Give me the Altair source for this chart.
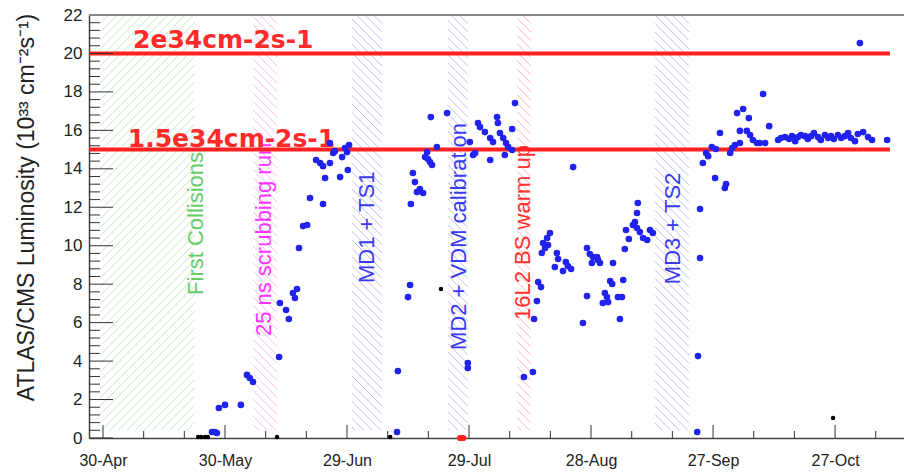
import altair as alt
import pandas as pd

# ---------------- data (days since 30-Apr-2017, luminosity in 1e33 cm-2 s-1) ----------------
blue_day = [26.8, 27.5, 28.0, 28.5, 30.0, 33.9, 35.4, 36.1, 36.9, 43.3, 43.5, 45.0, 45.7, 46.7,
            47.2, 47.7, 48.2, 49.2, 50.2, 50.9, 54.1, 52.4, 53.4, 54.1, 54.6, 55.8, 55.8, 56.6,
            57.0, 58.3, 58.8, 59.5, 60.0, 60.5, 60.2,
            72.3, 72.5, 75.0, 75.5, 75.7, 76.2, 76.7, 77.2, 77.9, 78.7, 79.2, 79.7, 79.9, 80.4,
            80.9, 82.1, 80.6, 84.6, 89.7, 89.7, 90.2, 91.0, 91.5, 92.2, 92.7, 93.9, 95.2, 95.9,
            95.2, 96.9, 97.1, 97.6, 98.4, 99.1, 99.6, 100.6, 98.8, 100.6, 101.3,
            103.5, 105.7, 106.0, 106.7, 107.0, 107.7, 107.9, 108.2, 108.7, 109.2, 109.4, 109.9,
            111.6, 111.9, 111.1, 113.8, 114.3, 113.1, 115.1, 115.6, 118.0, 119.0, 119.0, 119.7,
            120.5, 121.5, 120.2, 121.7, 122.2, 125.4, 124.7, 125.2, 123.4, 123.9, 122.9, 124.2,
            126.6, 127.6, 127.9, 127.1, 128.3, 129.3, 128.6, 131.5, 131.3, 130.8, 130.3, 131.3,
            132.0, 132.8, 133.8, 134.5, 135.2,
            146.1, 146.3, 146.8, 146.8, 147.5, 148.3, 148.8, 149.7, 150.7, 150.5, 153.2, 152.9,
            151.7, 154.2, 154.7, 155.4, 156.6, 155.9, 157.4, 158.8, 156.6, 158.3, 159.1, 159.8,
            160.8, 161.5, 162.8, 162.3, 163.8,
            166.0, 166.7, 167.7, 168.7, 169.4, 170.2, 170.9, 171.6, 172.6, 173.3, 174.1, 174.8,
            175.8, 176.5, 177.5, 178.3, 179.0, 179.7, 180.7, 181.5, 182.4, 183.2, 183.9, 184.9,
            185.6, 186.9, 188.1, 189.1, 192.8, 186.1]
blue_lum = [0.31, 0.31, 0.26, 1.56, 1.72, 1.72, 3.28, 3.12, 2.91, 4.21, 7.02, 6.66, 6.19, 7.54,
            7.28, 7.75, 9.88, 11.02, 11.08, 12.48, 12.17, 14.46, 14.30, 14.14, 13.52, 14.30, 15.34, 14.82,
            14.92, 13.57, 14.61, 15.08, 14.87, 15.24, 13.94,
            0.31, 3.48, 7.33, 7.96, 12.17, 13.78, 13.31, 12.79, 12.95, 12.74, 14.61, 14.87, 14.51, 14.35,
            14.20, 15.13, 16.69, 16.90, 3.90, 3.64, 15.39, 14.72, 14.82, 16.38, 16.17, 15.91, 15.60, 15.39,
            14.46, 16.69, 16.38, 15.86, 15.60, 15.34, 15.13, 14.98, 14.72, 16.07, 17.42,
            3.17, 3.43, 6.19, 7.12, 8.11, 7.85, 9.62, 10.14, 9.88, 10.40, 10.04, 10.66,
            9.62, 9.31, 8.89, 9.15, 8.94, 8.68, 8.79, 14.09, 5.98, 7.38, 9.88, 9.57,
            9.41, 9.41, 9.10, 9.26, 9.10, 9.10, 8.16, 8.01, 7.54, 7.33, 7.02, 7.07,
            7.33, 7.33, 8.22, 6.19, 9.83, 10.35, 10.82, 12.22, 11.70, 11.23, 11.08, 10.92,
            10.71, 10.40, 10.30, 10.82, 10.66,
            0.31, 4.26, 9.36, 11.91, 14.30, 14.82, 14.66, 15.13, 15.03, 13.52, 13.21, 13.00,
            15.86, 14.82, 15.08, 15.24, 15.34, 16.90, 17.11, 16.64, 15.97, 15.97, 15.76, 15.50,
            15.34, 15.34, 15.34, 17.89, 16.22,
            15.50, 15.60, 15.65, 15.55, 15.70, 15.44, 15.65, 15.76, 15.70, 15.55, 15.70, 15.86,
            15.65, 15.50, 15.76, 15.60, 15.70, 15.55, 15.76, 15.60, 15.70, 15.86, 15.60, 15.44,
            15.81, 15.91, 15.65, 15.50, 15.50, 20.54]

black_day = [23.4, 24.1, 25.1, 25.8, 42.8, 70.6, 83.1, 179.5]
black_lum = [0.05, 0.05, 0.05, 0.05, 0.05, 0.05, 7.75, 1.04]
red_day = [87.8, 88.6]
red_lum = [0.0, 0.0]

x_tick_days = [0, 30, 60, 90, 120, 150, 180]
x_tick_labels = ["30-Apr", "30-May", "29-Jun", "29-Jul", "28-Aug", "27-Sep", "27-Oct"]
y_tick_values = [0, 2, 4, 6, 8, 10, 12, 14, 16, 18, 20, 22]

band_start = [-0.7, 36.9, 61.2, 84.8, 101.8, 135.7]
band_end = [22.6, 42.8, 68.6, 89.7, 105.2, 144.1]
band_text = ["First Collisions", "25 ns scrubbing run", "MD1 + TS1",
             "MD2 + VDM calibration", "16L2 BS warm up", "MD3 + TS2"]
band_text_day = [22.9, 39.6, 64.9, 87.5, 103.3, 140.2]
band_text_lum = [7.44, 5.3, 8.06, 4.58, 6.14, 8.0]
band_text_color = ["#66cc66", "#ff33ff", "#3a3af0", "#3a3af0", "#ff3030", "#3a3af0"]
band_hatch_color = ["#c4e6c4", "#f6bcf6", "#bcc2f2", "#bcc2f2", "#f7b8b8", "#bcc2f2"]
band_hatch_dir = ["/", "\\", "\\", "\\", "\\", "\\"]

target_lum = [20, 15]
target_text = ["2e34cm-2s-1", "1.5e34cm-2s-1"]
target_text_day = [7.4, 6.1]
target_text_lum = [20.28, 15.13]
target_end_day = 193.5

# ---------------- layout ----------------
W, H = 815, 423
XMIN, XMAX = -3.44, 196.95
YMIN, YMAX = 0, 22
BAND_BOTTOM = 0.4
pxd = W / (XMAX - XMIN)
pxl = H / (YMAX - YMIN)

xs = alt.Scale(domain=[XMIN, XMAX], nice=False, zero=False)
ys = alt.Scale(domain=[YMIN, YMAX], nice=False, zero=False)

label_expr = "[" + ",".join("'%s'" % s for s in x_tick_labels) + "][round(datum.value/30)]"
XAX = alt.Axis(values=x_tick_days, labelExpr=label_expr, title=None,
               ticks=False, grid=False, domainColor="#444444",
               domainWidth=1.5, labelFont="Liberation Sans",
               labelFontSize=16, labelColor="#222222", labelPadding=14)
YAX = alt.Axis(values=y_tick_values, title="ATLAS/CMS Luminosity (10³³ cm⁻²s⁻¹)",
               ticks=False, grid=False, domainColor="#444444",
               domainWidth=1.5, labelFont="Liberation Sans",
               labelFontSize=17, labelColor="#222222", labelPadding=7,
               titleFont="Liberation Sans", titleFontSize=23,
               titleFontWeight="normal", titleColor="#222222",
               titleAngle=270, titleX=-56, titleY=192,
               titleAlign="center", titleBaseline="alphabetic")


def X(f):
    return alt.X(f, scale=xs, axis=XAX)


def Y(f):
    return alt.Y(f, scale=ys, axis=YAX)


# hatch segments derived from the band extents
hatch_rows = []
step = 8.5
for i in range(len(band_start)):
    L = (band_start[i] - XMIN) * pxd
    R = (band_end[i] - XMIN) * pxd
    T = H - YMAX * pxl
    B = H - BAND_BOTTOM * pxl
    if band_hatch_dir[i] == "\\":
        c = T - R
        while c < B - L:
            xlo, xhi = max(L, T - c), min(R, B - c)
            if xhi > xlo:
                hatch_rows.append(dict(x=XMIN + xlo / pxd, y=(H - (xlo + c)) / pxl,
                                       x2=XMIN + xhi / pxd, y2=(H - (xhi + c)) / pxl,
                                       col=band_hatch_color[i]))
            c += step
    else:
        c = T + L
        while c < B + R:
            xlo, xhi = max(L, c - B), min(R, c - T)
            if xhi > xlo:
                hatch_rows.append(dict(x=XMIN + xlo / pxd, y=(H - (c - xlo)) / pxl,
                                       x2=XMIN + xhi / pxd, y2=(H - (c - xhi)) / pxl,
                                       col=band_hatch_color[i]))
            c += step
hatch_df = pd.DataFrame(hatch_rows)

blue_df = pd.DataFrame({"day": blue_day, "lum": blue_lum})
black_df = pd.DataFrame({"day": black_day, "lum": black_lum})
red_df = pd.DataFrame({"day": red_day, "lum": red_lum})
text_df = pd.DataFrame({"day": band_text_day, "lum": band_text_lum,
                        "txt": band_text, "col": band_text_color})
target_df = pd.DataFrame({"lum": target_lum, "day": [XMIN] * 2, "x1": [target_end_day] * 2})
target_txt_df = pd.DataFrame({"day": target_text_day, "lum": target_text_lum, "txt": target_text})

x_major = pd.DataFrame({"day": x_tick_days})
x_minor = pd.DataFrame({"day": [d for d in range(10, 191, 10) if d % 30 != 0]})
y_major = pd.DataFrame({"lum": y_tick_values})
y_minor = pd.DataFrame({"lum": [round(k * 0.4, 2) for k in range(1, 55) if k % 5 != 0]})

TICK = "#333333"

hatch = alt.Chart(hatch_df).mark_rule(strokeWidth=1, clip=True).encode(
    x=X("x:Q"), x2="x2:Q", y=Y("y:Q"), y2="y2:Q",
    color=alt.Color("col:N", scale=None),
)

band_labels = alt.Chart(text_df).mark_text(angle=270, align="left", baseline="middle",
                                           font="Liberation Sans", fontSize=22).encode(
    x=X("day:Q"), y=Y("lum:Q"), text="txt:N",
    color=alt.Color("col:N", scale=None),
)

targets = alt.Chart(target_df).mark_rule(color="#ff2020", strokeWidth=4).encode(
    x=X("day:Q"), x2="x1:Q", y=Y("lum:Q"),
)

target_labels = alt.Chart(target_txt_df).mark_text(align="left", baseline="alphabetic",
                                                   font="DejaVu Sans", fontWeight="bold",
                                                   fontSize=25, color="#ff2a2a").encode(
    x=X("day:Q"), y=Y("lum:Q"), text="txt:N",
)

xt_major = alt.Chart(x_major).mark_rule(color=TICK, strokeWidth=1).encode(
    x=X("day:Q"), y=alt.value(H), y2=alt.value(H - 13))
xt_minor = alt.Chart(x_minor).mark_rule(color=TICK, strokeWidth=1).encode(
    x=X("day:Q"), y=alt.value(H), y2=alt.value(H - 7))
yt_major = alt.Chart(y_major).mark_rule(color=TICK, strokeWidth=1).encode(
    y=Y("lum:Q"), x=alt.value(0), x2=alt.value(24))
yt_minor = alt.Chart(y_minor).mark_rule(color=TICK, strokeWidth=1).encode(
    y=Y("lum:Q"), x=alt.value(0), x2=alt.value(11))

top_line = alt.Chart(pd.DataFrame({"a": [0]})).mark_rule(color="#888888", strokeWidth=2).encode(
    x=alt.value(0), x2=alt.value(W), y=alt.value(0))

blue_pts = alt.Chart(blue_df).mark_circle(size=44, color="#2222ee", opacity=1).encode(
    x=X("day:Q"), y=Y("lum:Q"))
black_pts = alt.Chart(black_df).mark_circle(size=20, color="#000000", opacity=1).encode(
    x=X("day:Q"), y=Y("lum:Q"))
red_pts = alt.Chart(red_df).mark_circle(size=38, color="#ff2020", opacity=1).encode(
    x=X("day:Q"), y=Y("lum:Q"))

chart = alt.layer(
    hatch, band_labels, targets, target_labels, xt_major, xt_minor, yt_major, yt_minor,
    top_line, blue_pts, black_pts, red_pts
).properties(
    width=W, height=H,
    autosize=alt.AutoSizeParams(type="none"),
    padding={"left": 89, "top": 15, "right": 0, "bottom": 37},
    background="white",
).configure_view(stroke=None)

chart.save("out.html", embed_options={"renderer": "svg", "actions": False})
